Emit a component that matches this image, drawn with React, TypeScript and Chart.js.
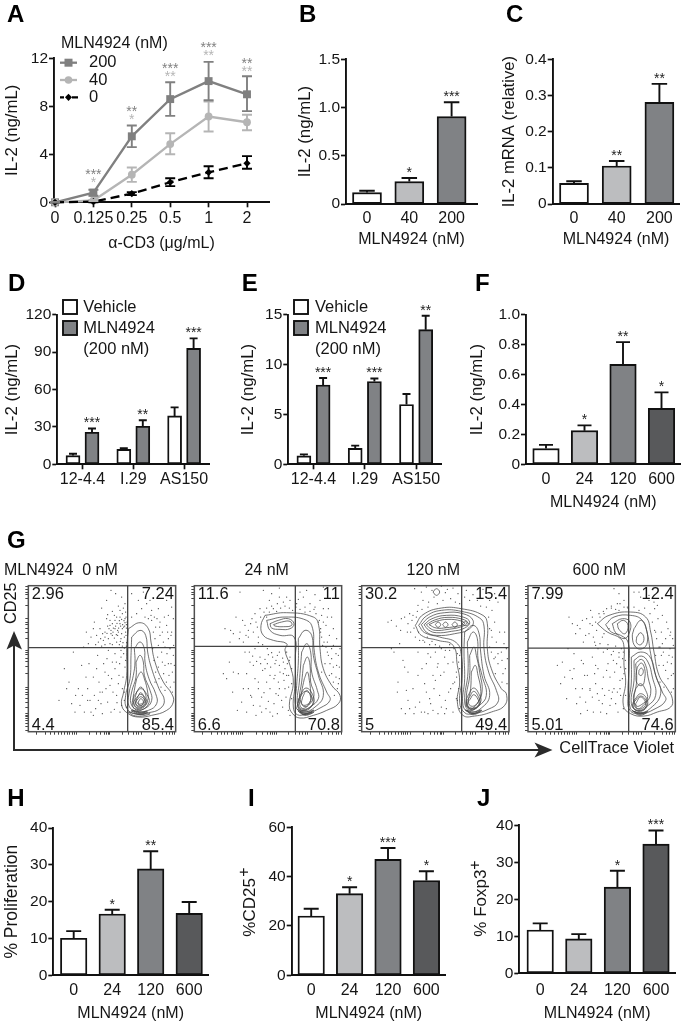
import React, { useEffect, useRef } from "react";
import { Chart, registerables } from "chart.js";

Chart.register(...registerables);

const SANS = '"Liberation Sans", Arial, sans-serif';
const WHITE = "#ffffff";
const LIGHT = "#bcbdbf";
const MID = "#808285";
const DARK = "#58595b";
const INK = "#151515";

// Panel A
const doseLabelsA = ["0", "0.125", "0.25", "0.5", "1", "2"];
const vals200 = [0, 0.8, 5.5, 8.6, 10.1, 9.0];
const hi200 = [0, 1.05, 6.4, 10, 11.7, 10.5];
const lo200 = [0, 0.55, 4.6, 7.2, 8.5, 7.6];
const vals40 = [0, 0.15, 2.3, 4.85, 7.15, 6.67];
const hi40 = [0, 0.2, 2.9, 5.75, 8.4, 7.3];
const lo40 = [0, 0.1, 1.7, 4, 5.9, 6];
const vals0 = [0, 0.05, 0.72, 1.67, 2.5, 3.25];
const hi0 = [0, 0.1, 0.85, 2, 3, 3.85];
const lo0 = [0, 0, 0.6, 1.35, 2, 2.8];
const starsA200 = ["", "***", "**", "***", "***", "**"];
const starYA200 = [0, 2.58, 7.8, 11.36, 13.1, 11.83];
const starsA40 = ["", "*", "*", "**", "**", "**"];
const starYA40 = [0, 1.92, 7.1, 10.7, 12.44, 11.1];

// Panels B, C
const catsBC = ["0", "40", "200"];
const valsB = [0.118, 0.232, 0.906];
const errB = [0.138, 0.27, 1.054];
const starsB = ["", "*", "***"];
const valsC = [0.057, 0.105, 0.281];
const errC = [0.063, 0.119, 0.332];
const starsC = ["", "**", "**"];

// Panels D, E
const catsDE = ["12-4.4", "I.29", "AS150"];
const vehD = [7, 12, 38.8];
const vehErrD = [8.5, 13, 45.7];
const mlnD = [25.7, 30.5, 93];
const mlnErrD = [28.7, 35.3, 101];
const starsD = ["***", "**", "***"];
const vehE = [0.85, 1.6, 6];
const vehErrE = [1.0, 1.87, 7.05];
const mlnE = [7.95, 8.3, 13.5];
const mlnErrE = [8.65, 8.6, 14.9];
const starsE = ["***", "***", "**"];

// Panels F, H, I, J
const catsDose = ["0", "24", "120", "600"];
const valsF = [0.105, 0.225, 0.668, 0.374];
const errF = [0.13, 0.26, 0.817, 0.481];
const starsF = ["", "*", "**", "*"];
const valsH = [10.05, 16.65, 28.9, 16.8];
const errH = [12, 17.8, 33.7, 19.9];
const starsH = ["", "*", "**", ""];
const valsI = [24.05, 33.1, 47, 38.4];
const errI = [27, 35.7, 51.6, 42.2];
const starsI = ["", "*", "***", "*"];
const valsJ = [11.7, 9.3, 23.3, 34.9];
const errJ = [13.5, 10.6, 27.7, 38.6];
const starsJ = ["", "", "*", "***"];

// Panel G: flow plots, channel units
const gHeaders = ["MLN4924  0 nM", "24 nM", "120 nM", "600 nM"];
const quadrant0 = ["2.96", "7.24", "4.4", "85.4"];
const quadrant24 = ["11.6", "11", "6.6", "70.8"];
const quadrant120 = ["30.2", "15.4", "5", "49.4"];
const quadrant600 = ["7.99", "12.4", "5.01", "74.6"];
const xMinorTicks = [35, 62, 78, 90, 100, 110, 120, 128, 135, 142, 148, 155, 195, 215, 228, 238, 245, 250, 255, 292, 312, 325, 335, 342, 350, 390, 412, 425, 435, 442, 450];
const yMinorTicks = [6, 16, 26, 34, 40, 46, 50, 55, 75, 90, 102, 112, 120, 127, 133, 175, 197, 212, 222, 232, 238, 244, 280, 300, 312, 322, 330, 342, 380, 400, 412, 420, 428, 437];

const dots0 = [240,300,255,320,262,290,270,335,278,305,285,325,290,295,296,315,300,340,302,300,288,280,275,270,262,262,250,280,235,275,225,310,215,290,208,330,245,340,268,350,292,355,300,328,304,312,298,285,283,262,305,268,294,268,230,258,258,305,272,318,258,425,272,415,290,405,245,395,300,385,230,372,280,378,355,420,102,95,118,190,132,150,145,240,152,110,165,80,170,200,178,60,188,130,195,95,205,165,212,70,218,230,225,120,232,55,240,180,248,90,255,140,262,210,268,68,275,110,282,170,288,225,292,130,298,95,300,195,285,60,250,245,270,235,380,335,392,315,405,290,415,270,425,320,435,250,445,230,410,240,398,225,420,200,432,170,442,180,405,330,418,345,360,345,440,300,447,150,430,280,390,280,412,210,385,300,400,260,426,235,438,205,285,345,278,290,265,312,248,318,292,310,306,330,303,290,
281,312,287,318,293,322,299,318,304,322,276,326,283,334,290,338,297,334,303,345,270,310,264,300,258,295,252,310,246,296,240,285,233,295,227,280,220,270,212,262,205,310,198,285,190,265,184,300,176,255,268,282,274,292,280,300,286,272,292,258,298,252,304,258,255,265,240,262,262,325,255,335,248,352,262,362,275,345,285,365,295,372,302,360,
150,60,160,130,172,110,183,165,192,205,198,60,208,110,215,190,222,150,228,85,236,205,243,130,250,170,258,60,264,120,270,190,276,88,280,145,284,205,290,80,294,165,298,120,302,215,304,75,296,235,288,245,274,210,260,160,246,220,232,120,220,95,205,50,188,95,140,85,125,130,
383,250,387,215,392,180,400,195,402,160,408,135,416,175,424,150,430,205,436,135,442,120,448,200,446,260,438,290,428,300,420,255,412,300,404,315,396,340,388,345,378,350,370,340,420,125,390,150,430,350,445,340,400,370,375,395,
320,345,335,355,350,370,365,385,380,365,425,395,440,375,320,415,340,395];
const dots24 = [190,300,198,330,205,285,212,345,222,360,230,372,245,378,262,385,280,390,300,395,320,385,345,375,372,368,395,350,408,320,418,290,430,260,445,230,440,200,425,175,400,330,392,300,398,260,412,240,205,268,195,250,218,262,232,250,245,238,262,230,278,222,290,240,298,215,285,190,270,180,255,205,240,170,225,190,210,225,180,210,165,240,150,300,130,295,122,305,165,320,175,285,160,270,110,160,128,120,145,175,155,90,175,130,190,80,205,150,215,105,228,70,240,130,252,85,265,150,275,95,285,130,295,65,290,170,240,60,262,55,150,420,220,425,245,415,268,432,290,405,350,425,375,412,400,435,330,420,202,315,186,340,210,370,238,395,268,405,433,110,448,160,425,220,415,370,390,395,
230,345,238,360,250,370,260,362,272,372,285,378,298,372,308,365,318,375,330,368,345,360,360,362,378,355,388,335,392,310,395,285,402,270,408,255,415,230,420,205,430,195,438,165,445,145,450,250,440,280,430,310,412,345,400,370,425,345,
195,355,182,325,175,305,168,290,158,335,148,280,138,345,120,270,105,310,178,240,188,228,200,212,212,205,225,218,235,232,248,225,258,215,268,240,280,210,292,205,300,225,305,190,296,170,282,155,268,200,255,170,242,195,230,150,218,185,205,130,195,160,182,110,170,175,160,130,142,65,130,180,118,210,100,175,
170,60,185,105,198,50,210,78,222,118,235,92,248,48,258,115,268,130,278,75,288,105,296,135,300,50,305,100,305,145,280,175,265,110,252,160,232,205,215,60,190,200,
395,180,405,205,418,170,430,150,442,130,448,195,438,235,412,270,425,250,385,330,375,375,360,385,340,405,325,398];
const dots120 = [100,335,115,318,128,305,140,345,150,325,158,300,165,350,172,285,185,275,200,270,215,262,168,312,155,355,178,362,192,368,210,375,170,430,190,420,205,435,222,425,250,438,268,428,285,432,300,415,325,425,345,412,375,428,410,415,395,395,392,345,395,310,402,285,415,270,438,265,445,250,430,240,420,205,435,175,447,145,412,225,250,250,232,240,218,225,205,205,192,190,180,170,165,130,150,95,130,70,172,75,190,60,205,120,218,85,232,155,245,110,258,180,265,70,278,130,285,210,298,95,260,225,275,245,240,205,225,170,210,55,240,55,285,60,120,150,140,195,108,240,295,180,290,150,305,230,
130,340,148,300,162,335,175,345,182,300,195,275,208,285,222,272,232,262,245,258,262,245,275,262,288,250,298,235,302,210,305,190,296,165,285,145,272,120,262,95,250,75,238,195,228,130,215,100,200,145,185,90,168,55,155,70,142,55,200,60,225,65,260,55,
180,380,195,395,212,390,228,405,238,385,255,395,262,418,278,400,292,390,305,385,320,405,335,395,358,395,368,378,385,375,402,365,420,390,440,400,
400,240,408,220,420,235,432,215,442,190,448,220,432,150,440,300,425,300,410,330,400,305,395,255,412,175,
150,180,135,215,125,265,118,120,100,250,145,125,90,330,180,240,210,235,248,170,270,205,295,100,302,130,305,70];
const dots600 = [135,345,145,325,155,295,168,310,178,270,188,340,195,295,205,320,212,270,218,305,228,345,235,285,222,250,238,240,252,262,268,242,285,238,296,220,290,195,272,180,252,205,238,165,222,190,205,225,190,170,172,215,150,190,132,250,115,210,110,145,128,100,145,160,158,85,175,130,190,65,205,105,215,145,230,60,242,110,258,80,270,130,282,60,290,110,295,160,268,215,255,310,240,355,262,372,280,385,300,395,330,420,270,430,285,415,350,405,375,395,392,370,402,340,412,300,425,280,438,250,445,225,430,210,442,170,448,130,418,240,432,310,446,280,408,255,395,300,310,375,285,365,200,365,178,205,150,235,
205,345,215,330,225,355,238,362,248,370,262,378,275,368,288,385,300,375,312,372,330,375,345,365,362,372,378,355,385,330,392,305,398,280,405,255,412,230,418,200,425,185,435,230,442,205,448,260,440,300,428,330,415,350,400,380,
160,320,175,335,185,290,198,325,208,285,215,260,228,265,240,295,250,248,262,232,275,258,285,225,292,250,298,240,304,215,305,190,300,175,288,155,278,205,265,120,258,165,248,185,235,130,225,95,212,175,198,130,182,170,168,105,155,130,138,185,122,165,100,200,
170,55,185,90,198,125,208,60,220,115,235,85,248,55,262,100,275,85,288,130,298,70,305,110,280,120,255,125,215,200,
408,150,420,135,432,160,442,120,448,175,438,290,395,230,405,200,415,265,390,390,375,410,345,420];

const cg0 = [
  [[310,310],[345,328],[370,310],[378,270],[390,210],[415,150],[440,115],[445,90],[425,65],[380,50],[340,45],[310,55],[290,80],[296,120],[305,170],[305,250]],
  [[320,285],[345,305],[362,290],[368,240],[380,190],[402,130],[418,95],[405,70],[370,58],[330,55],[305,72],[302,110],[315,160],[318,230]],
  [[328,250],[345,270],[358,250],[360,210],[372,160],[392,115],[395,85],[370,65],[335,62],[312,78],[312,115],[325,170],[330,210]],
  [[333,210],[345,230],[355,210],[358,170],[375,125],[380,95],[362,72],[335,68],[318,85],[320,120],[333,165]],
  [[335,160],[348,180],[358,160],[368,120],[368,95],[352,75],[335,74],[325,92],[328,125]],
  [[335,120],[347,135],[360,118],[362,95],[350,80],[337,80],[330,97]],
  [[338,105],[347,118],[357,104],[356,90],[347,84],[338,86],[334,95]],
  [[340,90],[347,100],[355,92],[352,82],[345,80],[340,84]],
  [[328,110],[347,130],[366,112],[372,88],[350,66],[330,68],[322,88]],
  [[332,100],[347,113],[362,100],[365,85],[347,70],[333,73],[326,88]],
  [[336,96],[347,106],[359,96],[360,84],[347,75],[336,78],[331,88]],
  [[310,60],[340,53],[375,55],[350,48],[325,50]],
  [[318,64],[345,58],[368,60],[345,52]],
  [[322,66],[345,60],[365,63],[345,55]],
];
const cg24 = [
  [[225,350],[290,358],[370,345],[386,320],[390,250],[400,190],[425,140],[450,110],[445,85],[410,65],[370,50],[330,42],[308,55],[298,80],[310,150],[300,200],[285,245],[290,265],[250,275],[220,290],[213,320]],
  [[230,335],[285,345],[350,335],[368,310],[372,250],[385,180],[410,120],[420,95],[390,72],[350,55],[322,52],[310,75],[315,140],[316,220],[312,285],[270,290],[240,305]],
  [[240,325],[265,335],[295,340],[312,325],[300,310],[270,308],[245,312]],
  [[250,322],[275,330],[300,332],[305,320],[280,316],[255,318]],
  [[325,280],[345,305],[365,290],[370,230],[385,170],[400,110],[375,75],[340,60],[318,75],[320,140],[325,210]],
  [[335,240],[350,265],[362,240],[365,180],[382,125],[385,100],[360,75],[335,65],[322,85],[328,150]],
  [[340,200],[352,225],[360,200],[362,150],[372,110],[355,80],[335,72],[328,100],[335,150]],
  [[343,160],[352,180],[358,155],[362,120],[362,95],[345,80],[332,90],[335,120]],
  [[338,105],[350,125],[362,105],[358,85],[345,76],[335,85]],
  [[330,110],[348,132],[368,112],[370,85],[345,68],[326,78]],
  [[326,100],[347,122],[368,100],[365,78],[345,64],[324,74]],
  [[325,62],[345,52],[372,60],[345,50]],
  [[330,60],[348,56],[366,60],[345,53]],
  [[322,68],[345,60],[372,66],[345,56]],
];
const cg120 = [
  [[172,320],[195,352],[250,372],[310,370],[375,350],[388,325],[388,250],[400,190],[430,130],[445,115],[440,80],[400,60],[350,48],[315,50],[298,90],[305,150],[298,200],[285,260],[240,275],[190,290]],
  [[182,320],[205,348],[250,365],[310,362],[365,342],[378,318],[378,250],[392,180],[415,125],[420,90],[390,68],[345,55],[320,58],[305,90],[312,160],[310,230],[295,268],[245,285],[200,298]],
  [[190,322],[215,345],[260,358],[315,355],[345,335],[335,310],[290,295],[235,290],[205,300]],
  [[198,322],[222,340],[265,350],[315,345],[335,330],[320,312],[280,302],[235,298],[212,306]],
  [[205,322],[230,336],[270,344],[315,338],[328,328],[310,316],[270,308],[232,305],[215,312]],
  [[213,322],[235,332],[270,338],[310,333],[320,325],[300,318],[265,313],[235,312]],
  [[232,322],[240,330],[248,322],[240,314]],
  [[254,322],[262,330],[270,322],[262,314]],
  [[282,322],[290,330],[298,322],[290,314]],
  [[312,325],[322,331],[332,325],[322,319]],
  [[320,300],[345,320],[362,300],[368,240],[378,170],[395,110],[370,72],[335,60],[315,80],[320,160],[318,240]],
  [[328,270],[345,300],[358,280],[360,220],[372,170],[385,110],[362,78],[335,65],[320,90],[330,180]],
  [[335,230],[348,255],[355,230],[365,180],[372,120],[355,82],[335,70],[325,100],[335,170]],
  [[340,180],[352,200],[360,170],[368,130],[365,100],[348,78],[332,85],[338,130]],
  [[331,112],[347,132],[364,112],[368,90],[348,68],[328,74],[324,92]],
  [[334,104],[347,122],[362,104],[365,84],[348,70],[330,74],[326,90]],
  [[336,98],[347,112],[360,98],[362,82],[347,72],[332,76],[329,88]],
  [[322,66],[345,56],[372,66],[345,52]],
  [[326,66],[345,60],[368,66],[345,55]],
  [[225,420],[235,430],[245,420],[235,410]],
];
const cg600 = [
  [[220,325],[255,350],[320,360],[365,345],[380,300],[390,240],[405,170],[430,130],[445,100],[440,75],[400,60],[360,48],[320,55],[298,80],[305,150],[300,200],[300,255],[290,280],[250,300]],
  [[245,322],[270,345],[320,350],[355,335],[370,295],[380,235],[395,170],[415,120],[425,95],[390,68],[350,55],[318,65],[312,110],[315,200],[312,270],[290,290],[262,300]],
  [[265,325],[295,340],[318,330],[315,295],[300,280],[275,298]],
  [[280,325],[298,335],[312,320],[303,295],[285,308]],
  [[330,310],[350,335],[365,315],[370,270],[355,250],[335,255],[325,285]],
  [[338,285],[350,298],[360,280],[350,262],[338,268]],
  [[322,225],[350,240],[378,225],[395,170],[410,115],[380,72],[345,58],[318,75],[322,150]],
  [[330,215],[352,228],[372,210],[385,165],[395,110],[370,78],[340,65],[322,85],[330,155]],
  [[335,205],[352,218],[365,200],[372,165],[380,115],[360,82],[338,70],[330,95],[338,155]],
  [[340,195],[352,207],[362,190],[362,160],[355,140],[340,145],[336,170]],
  [[345,185],[352,192],[358,182],[352,170],[345,173]],
  [[335,130],[350,145],[365,125],[370,100],[352,82],[338,78],[328,100]],
  [[335,85],[350,105],[365,85],[352,70],[338,72]],
  [[331,96],[350,115],[370,96],[366,72],[350,64],[332,68],[326,82]],
  [[330,90],[350,108],[368,90],[362,70],[350,62],[334,66],[327,78]],
  [[325,64],[348,56],[372,62],[348,50]],
  [[330,62],[348,57],[368,60],[348,53]],
];

type Note = { t: string; x: number; y: number; font: string; color?: string; align?: CanvasTextAlign; rot?: number };

const noteFont = (size: number, bold = false) => `${bold ? "bold " : ""}${size}px ${SANS}`;
const letter = (t: string, x: number, y: number): Note => ({ t, x, y, font: noteFont(24, true), color: "#000" });

const noteLayer = (notes: Note[], extra?: (c: CanvasRenderingContext2D) => void) => ({
  id: "notes",
  afterDraw(chart: any) {
    const c = chart.ctx;
    if (extra) extra(c);
    for (const n of notes) {
      c.save();
      c.font = n.font;
      c.fillStyle = n.color || INK;
      c.textAlign = n.align || "left";
      c.textBaseline = "middle";
      c.translate(n.x, n.y);
      if (n.rot) c.rotate(n.rot);
      c.fillText(n.t, 0, 0);
      c.restore();
    }
  },
});

const errorBars = {
  id: "errorBars",
  afterDatasetsDraw(chart: any) {
    const c = chart.ctx;
    const { x: xs, y: ys } = chart.scales;
    chart.data.datasets.forEach((d: any) => {
      if (!d.errHigh) return;
      c.save();
      c.strokeStyle = d.errColor || "#111";
      c.lineWidth = 1.9;
      d.data.forEach((p: any, i: number) => {
        const x = xs.getPixelForValue(p.x);
        const yTop = ys.getPixelForValue(d.errHigh[i]);
        const yBot = ys.getPixelForValue(d.errLow ? d.errLow[i] : p.y);
        const cap = d.errCap / 2;
        c.beginPath();
        c.moveTo(x, yBot);
        c.lineTo(x, yTop);
        c.moveTo(x - cap, yTop);
        c.lineTo(x + cap, yTop);
        if (d.errLow) {
          c.moveTo(x - cap, yBot);
          c.lineTo(x + cap, yBot);
        }
        c.stroke();
      });
      c.restore();
    });
  },
};

// stars are attached to marks: data x, and either a data y or the top of an error bar
const starLayer = (items: { x: number; y: number; t: string; color?: string; gap?: number }[]) => ({
  id: "stars",
  afterDraw(chart: any) {
    const c = chart.ctx;
    const { x: xs, y: ys } = chart.scales;
    c.save();
    c.font = noteFont(14);
    c.textAlign = "center";
    c.textBaseline = "middle";
    for (const s of items) {
      if (!s.t) continue;
      c.fillStyle = s.color || "#222";
      c.fillText(s.t, xs.getPixelForValue(s.x), ys.getPixelForValue(s.y) - (s.gap ?? 0) + 3.5);
    }
    c.restore();
  },
});

const framePlugin = {
  id: "frame",
  beforeDatasetsDraw(chart: any) {
    const { left, top, width, height } = chart.chartArea;
    const c = chart.ctx;
    c.save();
    c.strokeStyle = "#505050";
    c.lineWidth = 1.5;
    c.strokeRect(left, top, width, height);
    c.restore();
  },
};

type Geo = {
  axisX: number; right: number; top: number; axisY: number;
  c0: number; step: number; titleX: number; xTitleY?: number; tickPad: number;
  xTitle?: string; yTitle?: string; xTicks: number; yTickVals: number[]; yTickLabels: string[]; yMax: number; xLabels: string[];
  yTitleSize?: number;
};

function axes(g: Geo) {
  const lhY = (g.yTitleSize || 16.8) * 1.2;
  const lhX = 16 * 1.2;
  const leftEdge = g.titleX - lhY / 2;
  const bottomEdge = g.xTitleY ? g.xTitleY + lhX / 2 : g.axisY + 32;
  const padding = { left: leftEdge, top: g.top, right: 685 - g.right, bottom: 1028 - bottomEdge };
  const scales = {
    x: {
      type: "linear",
      offset: false,
      min: (g.axisX - g.c0) / g.step,
      max: (g.right - g.c0) / g.step,
      afterBuildTicks: (s: any) => { s.ticks = g.xLabels.map((_, i) => ({ value: i })); },
      afterFit: (s: any) => { s.height = bottomEdge - g.axisY; },
      border: { color: "#111", width: 1.9 },
      grid: { offset: false, drawOnChartArea: false, tickLength: 5, tickWidth: g.xTicks, tickColor: "#111" },
      ticks: {
        autoSkip: false, maxRotation: 0, minRotation: 0, padding: g.tickPad, color: INK,
        font: { family: SANS, size: 16 },
        callback: (v: number) => g.xLabels[Math.round(v)] ?? "",
      },
      title: g.xTitle ? { display: true, text: g.xTitle, color: INK, font: { family: SANS, size: 16 }, padding: { top: 0, bottom: 0 } } : { display: false },
    },
    y: {
      type: "linear",
      min: 0,
      max: g.yMax,
      afterBuildTicks: (s: any) => { s.ticks = g.yTickVals.map((value) => ({ value })); },
      afterFit: (s: any) => { s.width = g.axisX - leftEdge; },
      border: { color: "#111", width: 1.9 },
      grid: { drawOnChartArea: false, tickLength: 5, tickWidth: 1.7, tickColor: "#111" },
      ticks: {
        autoSkip: false, padding: 1, color: INK,
        font: { family: SANS, size: 15.5 },
        callback: (v: number) => g.yTickLabels[g.yTickVals.indexOf(v)] ?? "",
      },
      title: g.yTitle ? { display: true, text: g.yTitle, color: INK, font: { family: SANS, size: g.yTitleSize || 16.8 }, padding: { top: 0, bottom: 0 } } : { display: false },
    },
  };
  return { padding, scales };
}

function barPanel(g: Geo, vals: number[], errs: number[], stars: string[], colors: string[], barW: number, cap: number, notes: Note[]) {
  const { padding, scales } = axes(g);
  return {
    type: "bar",
    data: {
      datasets: [{
        data: vals.map((y, x) => ({ x, y })),
        backgroundColor: colors, borderColor: "#111", borderWidth: 1.9, borderSkipped: false,
        barThickness: barW, grouped: false, errHigh: errs, errCap: cap,
      }],
    },
    options: {
      animation: false, responsive: false,
      layout: { padding, autoPadding: false },
      plugins: { legend: { display: false }, tooltip: { enabled: false } },
      scales,
    },
    plugins: [errorBars, starLayer(stars.map((t, i) => ({ x: i, y: errs[i], t, gap: 8.5 }))), noteLayer(notes)],
  };
}

function groupedPanel(g: Geo, veh: number[], vehErr: number[], mln: number[], mlnErr: number[], stars: string[], offset: number, notes: Note[]) {
  const { padding, scales } = axes(g);
  const common = { borderColor: "#111", borderWidth: 1.9, borderSkipped: false, barThickness: 14, grouped: false, errCap: 8 };
  return {
    type: "bar",
    data: {
      datasets: [
        { ...common, label: "Vehicle", data: veh.map((y, i) => ({ x: i - offset, y })), backgroundColor: WHITE, errHigh: vehErr },
        { ...common, label: "MLN4924", data: mln.map((y, i) => ({ x: i + offset, y })), backgroundColor: MID, errHigh: mlnErr },
      ],
    },
    options: {
      animation: false, responsive: false,
      layout: { padding, autoPadding: false },
      plugins: { legend: { display: false }, tooltip: { enabled: false } },
      scales,
    },
    plugins: [errorBars, starLayer(stars.map((t, i) => ({ x: i + offset, y: mlnErr[i], t, gap: 8.5 }))), noteLayer(notes)],
  };
}

const legendDE = (boxX: number) => ({
  id: "legendDE",
  afterDraw(chart: any) {
    const c = chart.ctx;
    c.save();
    c.lineWidth = 1.9;
    c.strokeStyle = "#111";
    c.fillStyle = WHITE;
    c.fillRect(boxX, 300, 14, 14);
    c.strokeRect(boxX, 300, 14, 14);
    c.fillStyle = MID;
    c.fillRect(boxX, 321, 14, 14);
    c.strokeRect(boxX, 321, 14, 14);
    c.restore();
  },
});

const legendA = {
  id: "legendA",
  afterDraw(chart: any) {
    const c = chart.ctx;
    c.save();
    c.lineWidth = 2.3;
    c.strokeStyle = "#808080";
    c.beginPath(); c.moveTo(60, 62.7); c.lineTo(77, 62.7); c.stroke();
    c.fillStyle = "#808080";
    c.fillRect(64.5, 58.7, 8, 8);
    c.strokeStyle = "#b5b5b5";
    c.beginPath(); c.moveTo(60, 80); c.lineTo(77, 80); c.stroke();
    c.fillStyle = "#b5b5b5";
    c.beginPath(); c.arc(68.5, 80, 3.8, 0, Math.PI * 2); c.fill();
    c.strokeStyle = "#000";
    c.beginPath(); c.moveTo(60, 97.3); c.lineTo(64, 97.3); c.moveTo(72, 97.3); c.lineTo(78, 97.3); c.stroke();
    c.fillStyle = "#000";
    c.beginPath(); c.moveTo(68.5, 93.7); c.lineTo(72, 97.3); c.lineTo(68.5, 100.9); c.lineTo(65, 97.3); c.closePath(); c.fill();
    c.restore();
  },
};

function panelA() {
  const g: Geo = {
    axisX: 54, right: 269, top: 58.3, axisY: 202.3, c0: 55, step: 38.4, titleX: 12.7, xTitleY: 244, tickPad: 1.4,
    xTitle: "α-CD3 (μg/mL)", yTitle: "IL-2 (ng/mL)", xTicks: 1.7, yTickVals: [0, 4, 8, 12], yTickLabels: ["0", "4", "8", "12"], yMax: 12, xLabels: doseLabelsA,
  };
  const { padding, scales } = axes(g);
  const pts = (v: number[]) => v.map((y, x) => ({ x, y }));
  const line = { fill: false, clip: false as const, tension: 0, errCap: 10 };
  const stars = [
    ...starsA200.map((t, i) => ({ x: i, y: starYA200[i], t, color: "#808080" })),
    ...starsA40.map((t, i) => ({ x: i, y: starYA40[i], t, color: "#b5b5b5" })),
  ];
  const notes: Note[] = [
    letter("A", 7, 15),
    { t: "MLN4924 (nM)", x: 61, y: 44, font: noteFont(16) },
    { t: "200", x: 89, y: 62.7, font: noteFont(16.5) },
    { t: "40", x: 89, y: 80, font: noteFont(16.5) },
    { t: "0", x: 89, y: 97.3, font: noteFont(16.5) },
  ];
  return {
    type: "line",
    data: {
      datasets: [
        { ...line, label: "0", data: pts(vals0), borderColor: "#000", backgroundColor: "#000", borderWidth: 2.3, borderDash: [9, 5], pointStyle: "rectRot", pointRadius: 3.6, pointBorderWidth: 0, errHigh: hi0, errLow: lo0, errColor: "#000" },
        { ...line, label: "40", data: pts(vals40), borderColor: "#b5b5b5", backgroundColor: "#b5b5b5", borderWidth: 2.3, pointStyle: "circle", pointRadius: 3.9, pointBorderWidth: 0, errHigh: hi40, errLow: lo40, errColor: "#b5b5b5" },
        { ...line, label: "200", data: pts(vals200), borderColor: "#808080", backgroundColor: "#808080", borderWidth: 2.3, pointStyle: "rect", pointRadius: 5.6, pointBorderWidth: 0, errHigh: hi200, errLow: lo200, errColor: "#808080" },
      ],
    },
    options: {
      animation: false, responsive: false,
      layout: { padding, autoPadding: false },
      plugins: { legend: { display: false }, tooltip: { enabled: false } },
      scales,
    },
    plugins: [errorBars, starLayer(stars), legendA, noteLayer(notes)],
  };
}

function pairs(flat: number[]) {
  const out: { x: number; y: number }[] = [];
  for (let i = 0; i + 1 < flat.length; i += 2) out.push({ x: flat[i], y: flat[i + 1] });
  return out;
}

function flowPanel(ox: number, left: number, gateX: number, gateY: number, dots: number[], contours: number[][][], labels: string[], header: Note, extra?: (c: CanvasRenderingContext2D) => void, more: Note[] = []) {
  const right = left + 442;
  const fL = ox + left / 3;
  const fR = ox + right / 3;
  const fT = 585.7;
  const fB = 731.7;
  const qs = noteFont(16.5);
  const notes: Note[] = [
    header,
    { t: labels[0], x: fL + 3.4, y: 594.3, font: qs },
    { t: labels[1], x: fR - 1.7, y: 594.3, font: qs, align: "right" },
    { t: labels[2], x: fL + 3.4, y: 725, font: qs },
    { t: labels[3], x: fR - 1.7, y: 725, font: qs, align: "right" },
    ...more,
  ];
  return {
    type: "scatter",
    data: {
      datasets: [
        { data: pairs(dots), showLine: false, pointRadius: 0.6, pointBorderWidth: 0, backgroundColor: "#3a3a3a" },
        ...contours.map((c) => ({
          data: [...c, c[0]].map(([x, y]) => ({ x, y })),
          showLine: true, pointRadius: 0, borderColor: "#444", borderWidth: 0.75, tension: 0.45, capBezierPoints: false, fill: false,
        })),
        { data: [{ x: gateX, y: 1 }, { x: gateX, y: 439 }], showLine: true, pointRadius: 0, borderColor: "#444", borderWidth: 1.3 },
        { data: [{ x: left, y: 450 - gateY }, { x: right, y: 450 - gateY }], showLine: true, pointRadius: 0, borderColor: "#444", borderWidth: 1.3 },
      ],
    },
    options: {
      animation: false, responsive: false,
      layout: { padding: { left: fL - 8, top: fT, right: 685 - fR, bottom: 1028 - fB - 8 }, autoPadding: false },
      plugins: { legend: { display: false }, tooltip: { enabled: false } },
      scales: {
        x: {
          type: "linear", min: left, max: right,
          afterBuildTicks: (s: any) => { s.ticks = xMinorTicks.map((t) => ({ value: t + left - 10 })); },
          afterFit: (s: any) => { s.height = 8; },
          border: { display: false },
          grid: { drawOnChartArea: false, tickLength: 3, tickWidth: 1, tickColor: "#444" },
          ticks: { display: false, autoSkip: false },
        },
        y: {
          type: "linear", min: 1, max: 439,
          afterBuildTicks: (s: any) => { s.ticks = yMinorTicks.map((value) => ({ value })); },
          afterFit: (s: any) => { s.width = 8; },
          border: { display: false },
          grid: { drawOnChartArea: false, tickLength: 3, tickWidth: 1, tickColor: "#444" },
          ticks: { display: false, autoSkip: false },
        },
      },
    },
    plugins: [framePlugin, noteLayer(notes, extra)],
  };
}

const arrows = (c: CanvasRenderingContext2D) => {
  c.save();
  c.strokeStyle = "#2b2b2b";
  c.fillStyle = "#2b2b2b";
  c.lineWidth = 2;
  c.beginPath();
  c.moveTo(14, 645);
  c.lineTo(14, 750);
  c.lineTo(542, 750);
  c.stroke();
  c.beginPath();
  c.moveTo(14, 631); c.lineTo(22, 649.5); c.lineTo(14, 645.5); c.lineTo(6.5, 649.5); c.closePath();
  c.fill();
  c.beginPath();
  c.moveTo(552.5, 750); c.lineTo(534.5, 742.5); c.lineTo(539, 750); c.lineTo(534.5, 757.5); c.closePath();
  c.fill();
  c.restore();
};

const buildCharts = () => {
  const dec = ["0", "0.5", "1.0", "1.5"];
  return [
    panelA(),
    barPanel(
      { axisX: 346, right: 477, top: 59.3, axisY: 204, c0: 367, step: 42.3, titleX: 305, xTitleY: 240, tickPad: 0, xTitle: "MLN4924 (nM)", yTitle: "IL-2 (ng/mL)", xTicks: 0, yTickVals: [0, 0.5, 1, 1.5], yTickLabels: dec, yMax: 1.5, xLabels: catsBC },
      valsB, errB, starsB, [WHITE, LIGHT, MID], 29, 15.5, [letter("B", 299, 15)]),
    barPanel(
      { axisX: 552.7, right: 679.3, top: 59.3, axisY: 204, c0: 574, step: 42.7, titleX: 509.3, xTitleY: 240, tickPad: 0, xTitle: "MLN4924 (nM)", yTitle: "IL-2 mRNA (relative)", yTitleSize: 16.6, xTicks: 0, yTickVals: [0, 0.1, 0.2, 0.3, 0.4], yTickLabels: ["0", "0.1", "0.2", "0.3", "0.4"], yMax: 0.4, xLabels: catsBC },
      valsC, errC, starsC, [WHITE, LIGHT, MID], 29, 15.5, [letter("C", 506, 15)]),
    { ...groupedPanel(
      { axisX: 57.3, right: 209.3, top: 314.7, axisY: 464.3, c0: 82.5, step: 50.8, titleX: 12.7, tickPad: 1.1, yTitle: "IL-2 (ng/mL)", xTicks: 1.7, yTickVals: [0, 30, 60, 90, 120], yTickLabels: ["0", "30", "60", "90", "120"], yMax: 120, xLabels: catsDE },
      vehD, vehErrD, mlnD, mlnErrD, starsD, 0.187, [
        letter("D", 8, 284),
        { t: "Vehicle", x: 83.3, y: 307.3, font: noteFont(16.5) },
        { t: "MLN4924", x: 83.3, y: 328.3, font: noteFont(16.5) },
        { t: "(200 nM)", x: 83.3, y: 349.3, font: noteFont(16.5) },
      ]), extraLegend: 63 },
    { ...groupedPanel(
      { axisX: 288.3, right: 441.7, top: 314.7, axisY: 464.3, c0: 313.5, step: 51.3, titleX: 248.3, tickPad: 1.1, yTitle: "IL-2 (ng/mL)", xTicks: 1.7, yTickVals: [0, 5, 10, 15], yTickLabels: ["0", "5", "10", "15"], yMax: 15, xLabels: catsDE },
      vehE, vehErrE, mlnE, mlnErrE, starsE, 0.187, [
        letter("E", 241.7, 284),
        { t: "Vehicle", x: 315, y: 307.3, font: noteFont(16.5) },
        { t: "MLN4924", x: 315, y: 328.3, font: noteFont(16.5) },
        { t: "(200 nM)", x: 315, y: 349.3, font: noteFont(16.5) },
      ]), extraLegend: 294 },
    barPanel(
      { axisX: 526, right: 680.7, top: 314.7, axisY: 464.3, c0: 546, step: 38.5, titleX: 477.7, xTitleY: 502.3, tickPad: 1.1, xTitle: "MLN4924 (nM)", yTitle: "IL-2 (ng/mL)", xTicks: 0, yTickVals: [0, 0.2, 0.4, 0.6, 0.8, 1], yTickLabels: ["0", "0.2", "0.4", "0.6", "0.8", "1.0"], yMax: 1, xLabels: catsDose },
      valsF, errF, starsF, [WHITE, LIGHT, MID, DARK], 26.5, 14, [letter("F", 475, 284)]),
    flowPanel(25, 10, 308, 197, dots0, cg0, quadrant0,
      { t: gHeaders[0], x: 4, y: 570.7, font: noteFont(16) }, arrows, [
        letter("G", 7, 541),
        { t: "CD25", x: 11.7, y: 603.3, font: noteFont(16.3), align: "center", rot: -Math.PI / 2 },
        { t: "CellTrace Violet", x: 559.3, y: 748.3, font: noteFont(16.4) },
      ]),
    flowPanel(190, 13, 316, 193, dots24, cg24, quadrant24, { t: gHeaders[1], x: 266.7, y: 570.7, font: noteFont(16), align: "center" }),
    flowPanel(358, 11, 311, 197, dots120, cg120, quadrant120, { t: gHeaders[2], x: 433.3, y: 570.7, font: noteFont(16), align: "center" }),
    flowPanel(524, 12, 314, 198, dots600, cg600, quadrant600, { t: gHeaders[3], x: 599.3, y: 570.7, font: noteFont(16), align: "center" }),
    barPanel(
      { axisX: 53.3, right: 208, top: 828, axisY: 975.3, c0: 73.7, step: 38.5, titleX: 11.7, xTitleY: 1014, tickPad: 0.8, xTitle: "MLN4924 (nM)", yTitle: "% Proliferation", yTitleSize: 17.5, xTicks: 0, yTickVals: [0, 10, 20, 30, 40], yTickLabels: ["0", "10", "20", "30", "40"], yMax: 40, xLabels: catsDose },
      valsH, errH, starsH, [WHITE, LIGHT, MID, DARK], 26.5, 15, [letter("H", 7.3, 799)]),
    barPanel(
      { axisX: 291.7, right: 445.7, top: 827.3, axisY: 975.3, c0: 311.2, step: 38.4, titleX: 250.7, xTitleY: 1014, tickPad: 0.8, xTitle: "MLN4924 (nM)", xTicks: 0, yTickVals: [0, 20, 40, 60], yTickLabels: ["0", "20", "40", "60"], yMax: 60, xLabels: catsDose },
      valsI, errI, starsI, [WHITE, LIGHT, MID, DARK], 26.5, 15, [
        letter("I", 248, 799),
        { t: "%CD25", x: 250.7, y: 936.7, font: noteFont(17), rot: -Math.PI / 2 },
        { t: "+", x: 244.5, y: 872, font: noteFont(16), align: "center", rot: -Math.PI / 2 },
      ]),
    barPanel(
      { axisX: 519.3, right: 675, top: 825.3, axisY: 973.3, c0: 540.2, step: 38.6, titleX: 481, xTitleY: 1014, tickPad: 2.8, xTitle: "MLN4924 (nM)", xTicks: 0, yTickVals: [0, 10, 20, 30, 40], yTickLabels: ["0", "10", "20", "30", "40"], yMax: 40, xLabels: catsDose },
      valsJ, errJ, starsJ, [WHITE, LIGHT, MID, DARK], 26.5, 15, [
        letter("J", 477, 799),
        { t: "% Foxp3", x: 481, y: 936.7, font: noteFont(17), rot: -Math.PI / 2 },
        { t: "+", x: 476, y: 865, font: noteFont(16), align: "center", rot: -Math.PI / 2 },
      ]),
  ];
};

export default function App() {
  const refs = useRef<(HTMLCanvasElement | null)[]>([]);
  const configs = useRef<any[]>(buildCharts());
  useEffect(() => {
    const charts = configs.current.map((cfg, i) => {
      const { extraLegend, ...rest } = cfg;
      if (extraLegend) rest.plugins = [...rest.plugins, legendDE(extraLegend)];
      return new Chart(refs.current[i] as HTMLCanvasElement, rest);
    });
    return () => charts.forEach((c) => c.destroy());
  }, []);
  return (
    <div style={{ position: "absolute", left: 0, top: 0, width: 685, height: 1028, overflow: "hidden", background: "#fff" }}>
      {configs.current.map((_, i) => (
        <canvas
          key={i}
          ref={(el) => { refs.current[i] = el; }}
          width={685}
          height={1028}
          style={{ position: "absolute", left: 0, top: 0 }}
        />
      ))}
    </div>
  );
}
